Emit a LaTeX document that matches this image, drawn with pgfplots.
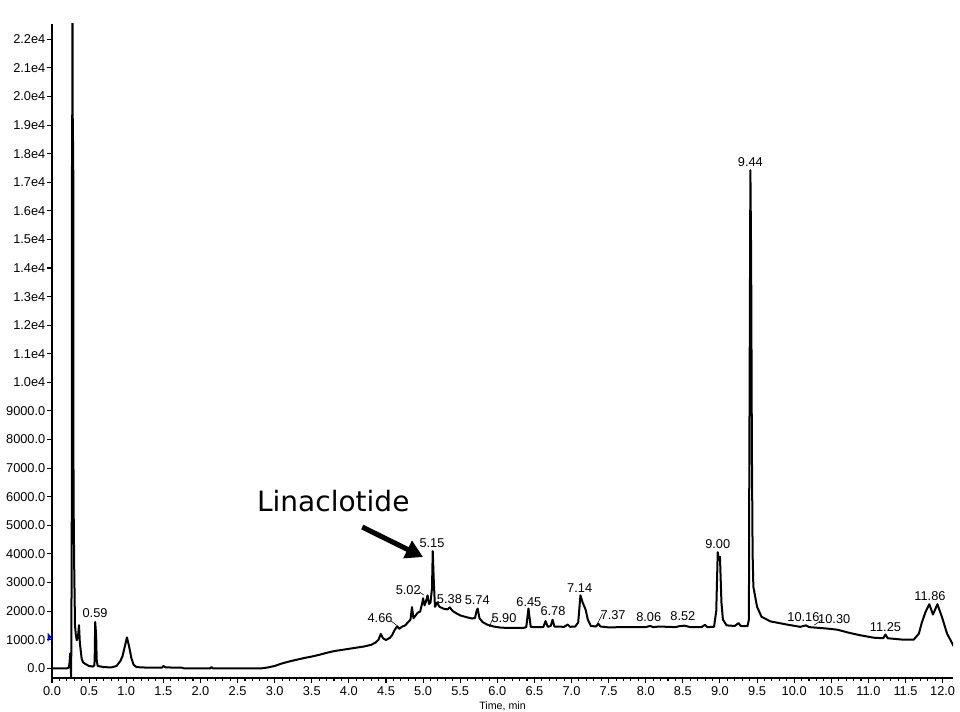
\documentclass[border=0pt]{standalone}
\usepackage{fontspec}
\setmainfont{Liberation Sans}
\newfontfamily\dejavu{DejaVu Sans}
\usepackage{pgfplots}
\pgfplotsset{compat=1.18}
\usetikzlibrary{calc,arrows.meta}
\newcommand{\tf}{\fontsize{9.6}{11}\selectfont}
\begin{document}
\begin{tikzpicture}
\begin{axis}[
  name=ax,
  scale only axis,
  width=675.75pt, height=490.5pt,
  xmin=0, xmax=12.14, ymin=-340, ymax=22535,
  axis lines*=left,
  axis line style={line width=1.1pt},
  tick align=outside,
  tick style={black, line width=0.8pt},
  major tick length=3.5pt,
  minor tick length=2.2pt,
  scaled y ticks=false, scaled x ticks=false,
  xtick={0,0.5,1,1.5,2,2.5,3,3.5,4,4.5,5,5.5,6,6.5,7,7.5,8,8.5,9,9.5,10,10.5,11,11.5,12},
  xticklabels={0.0,0.5,1.0,1.5,2.0,2.5,3.0,3.5,4.0,4.5,5.0,5.5,6.0,6.5,7.0,7.5,8.0,8.5,9.0,9.5,10.0,10.5,11.0,11.5,12.0},
  minor x tick num=4,
  ytick={0,1000,2000,3000,4000,5000,6000,7000,8000,9000,10000,11000,12000,13000,14000,15000,16000,17000,18000,19000,20000,21000,22000},
  yticklabels={0.0,1000.0,2000.0,3000.0,4000.0,5000.0,6000.0,7000.0,8000.0,9000.0,1.0e4,1.1e4,1.2e4,1.3e4,1.4e4,1.5e4,1.6e4,1.7e4,1.8e4,1.9e4,2.0e4,2.1e4,2.2e4},
  tick label style={font=\tf},
  xticklabel style={yshift=0.5pt},
  yticklabel style={xshift=2pt},
  xlabel={Time, min},
  xlabel style={font=\fontsize{8}{9}\selectfont, at={(rel axis cs:0.5,0)}, anchor=north, yshift=-17.5pt, inner sep=0pt},
]
\addplot[black, line width=1.5pt, line join=round] coordinates {
(0.00,0) (0.20,0) (0.225,20) (0.235,150) (0.245,520) (0.252,250) (0.258,-400)
(0.266,4400) (0.268,17560) (0.272,17560) (0.276,26000) (0.280,18440) (0.286,18440) (0.290,6000)
(0.300,3400) (0.310,1500) (0.320,1200) (0.333,980) (0.350,1100) (0.364,1510)
(0.375,900) (0.390,550) (0.400,330) (0.420,200) (0.450,150) (0.500,80)
(0.550,60) (0.570,100) (0.575,300) (0.582,1620) (0.588,1400) (0.595,1150)
(0.602,300) (0.615,80) (0.70,40) (0.80,30) (0.87,80) (0.92,250) (0.95,420)
(0.98,750) (1.01,1080) (1.04,750) (1.07,350) (1.10,120) (1.14,40) (1.30,20)
(1.48,20) (1.50,80) (1.53,30) (1.75,20) (1.78,-5) (2.13,-5) (2.15,40)
(2.17,-5) (2.83,0) (2.90,25) (3.00,80) (3.10,170) (3.20,240) (3.30,300)
(3.40,360) (3.50,410) (3.60,470) (3.70,540) (3.80,600) (3.90,640) (4.00,680)
(4.10,720) (4.20,760) (4.30,820) (4.36,900) (4.40,1000) (4.43,1200) (4.46,1050)
(4.50,990) (4.55,1060) (4.58,1150) (4.62,1350) (4.65,1470) (4.68,1380)
(4.72,1460) (4.76,1500) (4.80,1620) (4.83,1700) (4.85,2140) (4.87,1750)
(4.90,1850) (4.93,1950) (4.96,1980) (4.99,2300) (5.00,2450) (5.02,2200)
(5.04,2350) (5.06,2550) (5.08,2250) (5.10,2300) (5.12,2800) (5.13,4100)
(5.145,3000) (5.16,2150) (5.19,2300) (5.22,2150) (5.28,2080) (5.33,2060)
(5.36,2130) (5.40,2000) (5.45,1920) (5.50,1850) (5.58,1790) (5.66,1740)
(5.70,1760) (5.72,2000) (5.735,2090) (5.76,1750) (5.80,1620) (5.86,1530)
(5.95,1460) (6.05,1420) (6.20,1410) (6.35,1410) (6.39,1440) (6.42,2090)
(6.45,1450) (6.50,1440) (6.62,1440) (6.65,1650) (6.68,1450) (6.72,1480)
(6.745,1700) (6.77,1460) (6.90,1450) (6.95,1530) (6.98,1450) (7.05,1460)
(7.09,1600) (7.12,2550) (7.15,2300) (7.19,2050) (7.22,1700) (7.26,1480)
(7.33,1460) (7.36,1560) (7.39,1460) (7.50,1430) (7.70,1440) (8.00,1440)
(8.06,1480) (8.10,1440) (8.18,1460) (8.40,1440) (8.45,1470) (8.52,1490)
(8.60,1440) (8.75,1440) (8.80,1520) (8.83,1440) (8.92,1450) (8.95,2000)
(8.97,4060) (8.985,3800) (9.00,3900) (9.02,2300) (9.04,1700) (9.09,1500)
(9.20,1480) (9.25,1580) (9.28,1480) (9.37,1470) (9.39,1700) (9.395,6700)
(9.41,17420) (9.42,14440) (9.43,7740) (9.44,4000) (9.45,2850) (9.50,2150)
(9.56,1800) (9.68,1640) (9.90,1530) (10.08,1450) (10.16,1500) (10.20,1440)
(10.44,1390) (10.58,1350) (10.75,1235) (10.89,1155) (11.07,1070) (11.20,1050)
(11.23,1180) (11.26,1050) (11.47,1000) (11.61,1000) (11.68,1210) (11.72,1600)
(11.77,1970) (11.82,2240) (11.87,1880) (11.93,2240) (11.99,1800) (12.06,1210)
(12.15,770)
};
\coordinate (tri) at (axis cs:0,1090);
\begin{scope}[every node/.style={font=\tf, inner sep=0pt, anchor=center}]
\node at (axis cs:0.58,1935) {0.59};
\node at (axis cs:4.42,1760) {4.66};
\node at (axis cs:4.80,2750) {5.02};
\node at (axis cs:5.12,4360) {5.15};
\node at (axis cs:5.355,2420) {5.38};
\node at (axis cs:5.73,2385) {5.74};
\node at (axis cs:6.09,1740) {5.90};
\node at (axis cs:6.425,2300) {6.45};
\node at (axis cs:6.75,2005) {6.78};
\node at (axis cs:7.11,2790) {7.14};
\node at (axis cs:7.56,1855) {7.37};
\node at (axis cs:8.04,1775) {8.06};
\node at (axis cs:8.50,1820) {8.52};
\node at (axis cs:8.97,4360) {9.00};
\node at (axis cs:9.41,17700) {9.44};
\node at (axis cs:10.125,1775) {10.16};
\node at (axis cs:10.54,1715) {10.30};
\node at (axis cs:11.23,1445) {11.25};
\node at (axis cs:11.83,2520) {11.86};
\end{scope}
\draw[black, line width=0.4pt] (axis cs:4.57,1650) -- (axis cs:4.64,1510);
\draw[black, line width=0.4pt] (axis cs:4.95,2670) -- (axis cs:5.01,2560);
\draw[black, line width=0.4pt] (axis cs:5.95,1790) -- (axis cs:5.89,1445);
\draw[black, line width=0.4pt] (axis cs:7.42,1915) -- (axis cs:7.35,1565);
\draw[black, line width=0.4pt] (axis cs:10.37,1690) -- (axis cs:10.27,1510);
\node[font=\dejavu\fontsize{21}{24}\selectfont, inner sep=0pt, anchor=center] at (axis cs:3.79,5850) {Linaclotide};
\draw[black, line width=3.8pt, -{Triangle[length=13pt,width=14pt]}] (axis cs:4.18,4940) -- (axis cs:5.0,3890);
\end{axis}
\fill[blue] ($(tri)+(-3.2pt,3.2pt)$) -- ($(tri)+(-0.3pt,0pt)$) -- ($(tri)+(-3.2pt,-3.2pt)$) -- cycle;
\pgfresetboundingbox
\path[use as bounding box] ($(ax.south west)+(-39pt,-25.5pt)$) rectangle ($(ax.north east)+(5.25pt,18pt)$);
\end{tikzpicture}
\end{document}
